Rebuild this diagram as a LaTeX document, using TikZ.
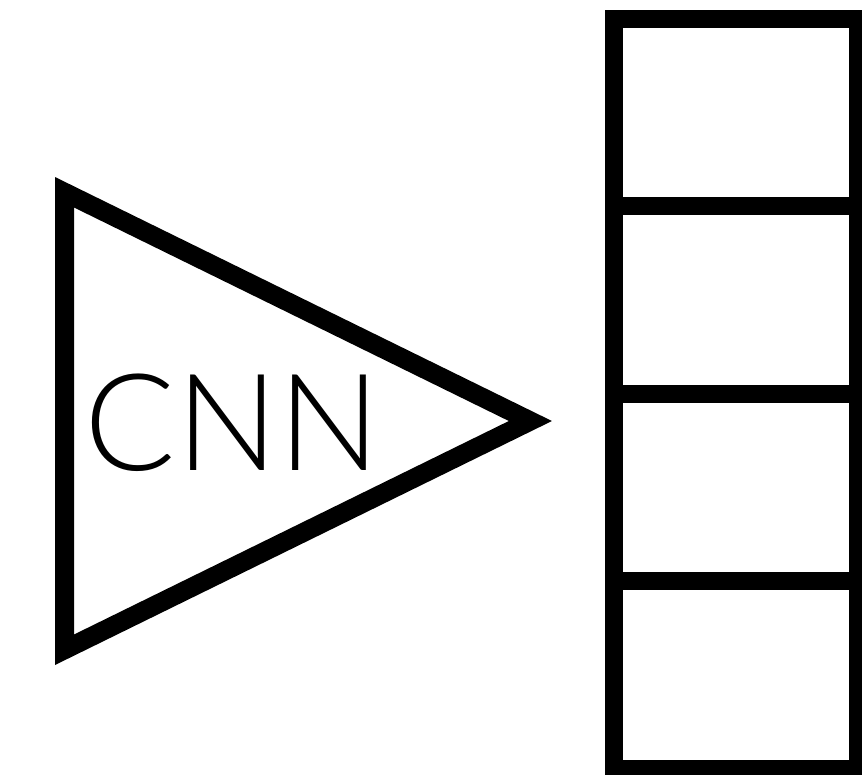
\documentclass[tikz,border=0pt]{standalone}
\usepackage{fontspec}
\newfontfamily\cnnfont[UprightFont={* Light}]{Lato}
\tikzset{
  thick line/.style={draw=black, line width=19pt, line join=miter},
  cell line/.style={draw=black, line width=18.6pt, line join=miter},
  label text/.style={font=\cnnfont\fontsize{135}{135}\selectfont, inner sep=0pt, anchor=base}
}
\begin{document}
\begin{tikzpicture}[x=1pt,y=-1pt]
\useasboundingbox (0,0) rectangle (862,774);
\clip (0,0) rectangle (862,774);
% triangle
\coordinate (ta) at (64.5,192.25);
\coordinate (tb) at (64.5,649.75);
\coordinate (tc) at (530.4,421);
\draw[thick line] (ta) -- (tb) -- (tc) -- cycle;
\node[label text] (cnn) at (232.5,470.5) {CNN};
% cells
\coordinate (c0l) at (614,18.8);
\coordinate (c4r) at (858.5,768.8);
\draw[cell line] (c0l) rectangle (c4r);
\coordinate (d1l) at (614,205.8);
\coordinate (d1r) at (858.5,205.8);
\coordinate (d2l) at (614,393.8);
\coordinate (d2r) at (858.5,393.8);
\coordinate (d3l) at (614,580.8);
\coordinate (d3r) at (858.5,580.8);
\draw[cell line] (d1l) -- (d1r);
\draw[cell line] (d2l) -- (d2r);
\draw[cell line] (d3l) -- (d3r);
\end{tikzpicture}
\end{document}
